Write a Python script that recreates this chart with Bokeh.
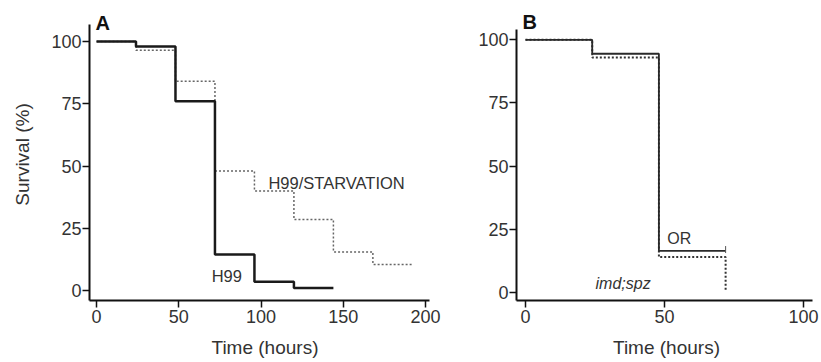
from bokeh.plotting import figure
from bokeh.layouts import row
from bokeh.models import Range1d, Label
from bokeh.embed import file_html
from bokeh.resources import INLINE
import math

# ---- data ----
# Panel A
h99_t = [0, 24, 48, 72, 96, 120, 144]
h99_s = [100, 98, 76, 14.5, 3.5, 1, 1]
starv_t = [0, 24, 48, 72, 96, 120, 144, 168, 192]
starv_s = [100, 96.5, 84, 48, 40, 28.5, 15.5, 10.5, 10.5]
# Panel B
or_t = [0, 24, 48, 72]
or_s = [100, 94.5, 16.5, 16.5]
or_censor_t = [72]
or_censor_s = [17]
imd_t = [0, 24, 48, 72, 72]
imd_s = [100, 93, 14, 14, 0.5]

x_ticks_a = [0, 50, 100, 150, 200]
x_ticks_b = [0, 50, 100]
y_ticks = [0, 25, 50, 75, 100]

FONT = "Liberation Sans"
TXT = "#333333"


def style(p, show_ylabel, xb, yb):
    p.outline_line_color = None
    p.xgrid.visible = False
    p.ygrid.visible = False
    p.xaxis.bounds = xb
    p.yaxis.bounds = yb
    for ax in (p.xaxis[0], p.yaxis[0]):
        ax.axis_line_width = 2
        ax.axis_line_color = "#111111"
        ax.major_tick_line_color = "#111111"
        ax.major_tick_line_width = 1.5
        ax.major_tick_out = 7
        ax.major_tick_in = 0
        ax.minor_tick_line_color = None
        ax.major_label_text_font = FONT
        ax.major_label_text_font_size = "18px"
        ax.major_label_text_color = TXT
        ax.axis_label_text_font = FONT
        ax.axis_label_text_font_size = "19px"
        ax.axis_label_text_font_style = "normal"
        ax.axis_label_text_color = TXT
    p.xaxis.major_label_standoff = 2
    p.xaxis.axis_label_standoff = 11
    p.yaxis.major_label_standoff = 1
    p.yaxis.axis_label_standoff = 15
    p.xaxis.axis_label = "Time (hours)"
    if show_ylabel:
        p.yaxis.axis_label = "Survival (%)"


# ---- Panel A ----
pa = figure(width=445, height=362, output_backend="svg", toolbar_location=None,
            x_range=Range1d(-4.26, 209.1), y_range=Range1d(-4.0, 113.25),
            min_border_left=89, min_border_right=5, min_border_top=8, min_border_bottom=62)
style(pa, True, (-4.26, 202.5), (-4.0, 106.8))
pa.xaxis.ticker = x_ticks_a
pa.yaxis.ticker = y_ticks
pa.step(starv_t, starv_s, mode="after", line_color="#666666", line_width=1.5, line_dash="2 2")
pa.step(h99_t, h99_s, mode="after", line_color="#1a1a1a", line_width=2.5)
pa.add_layout(Label(x=104.5, y=43, text="H99/STARVATION", text_font=FONT, text_font_size="16.5px",
                    text_color=TXT, text_baseline="middle", text_align="left"))
pa.add_layout(Label(x=70, y=6, text="H99", text_font=FONT, text_font_size="16.5px",
                    text_color=TXT, text_baseline="middle", text_align="left"))
pa.add_layout(Label(x=-0.6, y=107.6, text="A", text_font=FONT, text_font_size="20px",
                    text_font_style="bold", text_color="#111111", text_baseline="middle", text_align="left"))

# ---- Panel B ----
pb = figure(width=376, height=362, output_backend="svg", toolbar_location=None,
            x_range=Range1d(-3.24, 104.7), y_range=Range1d(-3.17, 112.4),
            min_border_left=71, min_border_right=5, min_border_top=8, min_border_bottom=62)
style(pb, False, (-3.24, 103.2), (-3.17, 104.1))
pb.xaxis.ticker = x_ticks_b
pb.yaxis.ticker = y_ticks
pb.step(imd_t, imd_s, mode="after", line_color="#333333", line_width=2, line_dash="2 2")
pb.step(or_t, or_s, mode="after", line_color="#2a2a2a", line_width=1.8)
pb.scatter(or_censor_t, or_censor_s, marker="dash", angle=math.pi / 2, size=7,
           line_color="#555555", line_width=1)
pb.add_layout(Label(x=51, y=21.4, text="OR", text_font=FONT, text_font_size="16px",
                    text_color=TXT, text_baseline="middle", text_align="left"))
pb.add_layout(Label(x=25.2, y=3.6, text="imd;spz", text_font=FONT, text_font_size="16px",
                    text_font_style="italic", text_color=TXT, text_baseline="middle", text_align="left"))
pb.add_layout(Label(x=-1.1, y=107.2, text="B", text_font=FONT, text_font_size="20px",
                    text_font_style="bold", text_color="#111111", text_baseline="middle", text_align="left"))

layout = row(pa, pb)
open("out.html", "w").write(file_html(layout, INLINE))
